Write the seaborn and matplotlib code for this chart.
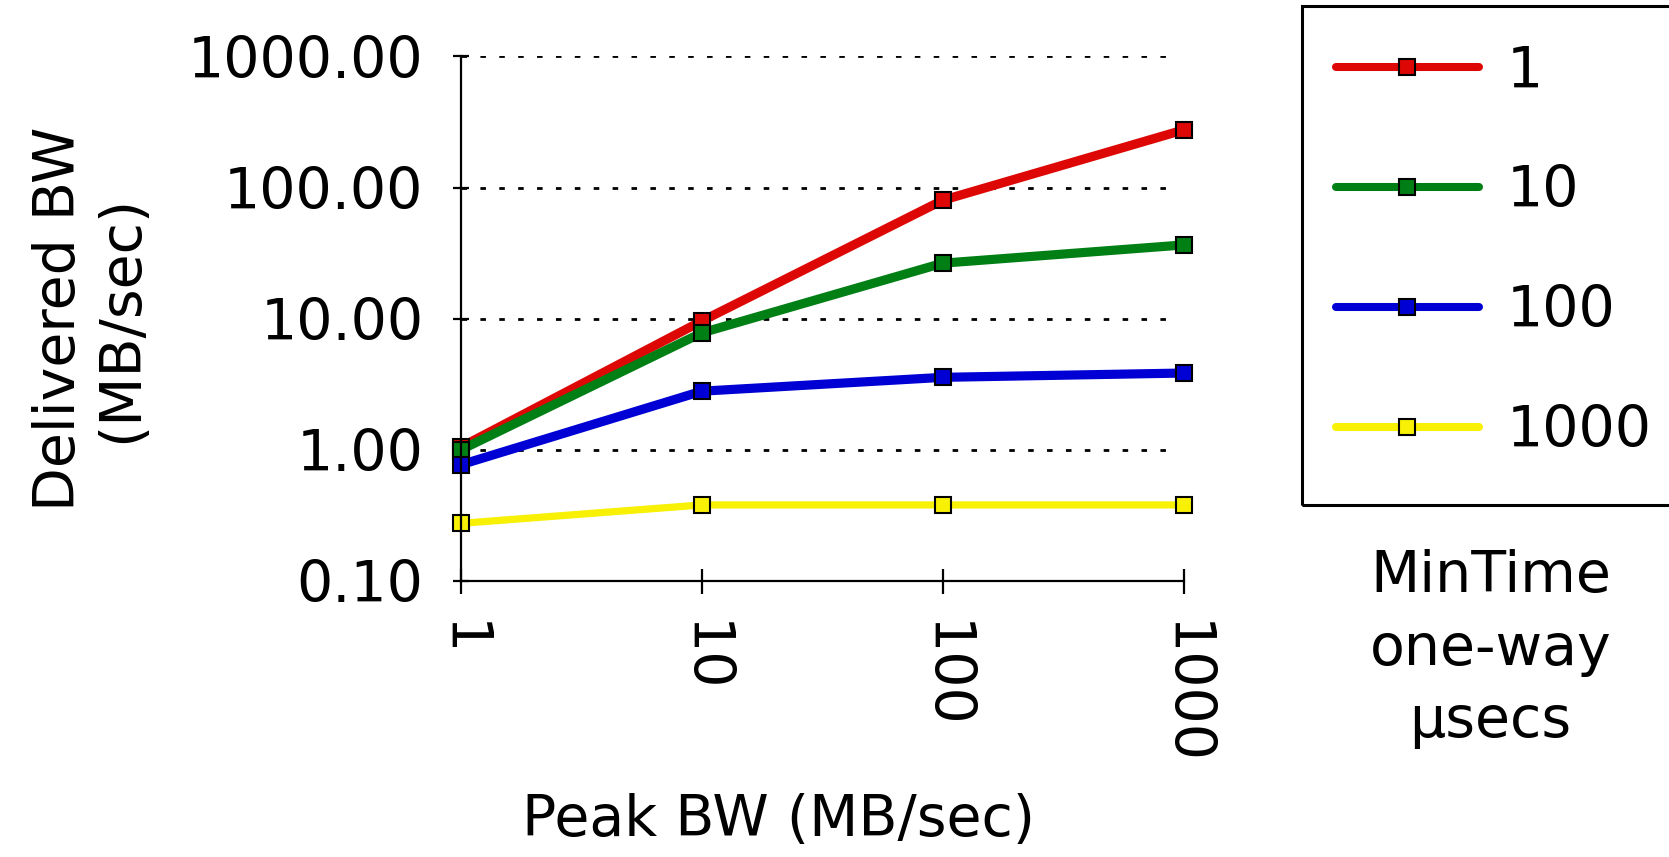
import matplotlib
matplotlib.use("Agg")
import matplotlib.pyplot as plt
from matplotlib.patches import Rectangle
from matplotlib.ticker import FixedLocator, NullLocator, FuncFormatter
import seaborn as sns
import pandas as pd

sns.set_style("white")
plt.rcParams['font.family'] = ['DejaVu Sans']
plt.rcParams.update({'text.color': 'black', 'axes.labelcolor': 'black',
                     'xtick.color': 'black', 'ytick.color': 'black'})

# data
peak_bw = [1, 10, 100, 1000]
min_time = ['1', '10', '100', '1000']
bw_1 = [1.05, 9.6, 80, 275]
bw_10 = [1.0, 7.8, 26.5, 36.5]
bw_100 = [0.77, 2.8, 3.57, 3.85]
bw_1000 = [0.275, 0.38, 0.38, 0.38]
colors = ['#DD0806', '#007F14', '#0000D4', '#F8F005']

df = pd.DataFrame({
    'Peak': peak_bw * 4,
    'Delivered': bw_1 + bw_10 + bw_100 + bw_1000,
    'MinTime': [m for m in min_time for _ in peak_bw],
})

FS = 41
fig = plt.figure(figsize=(16.69, 8.57), dpi=100)
ax = fig.add_axes([0.2762, 0.3221, 0.7092 - 0.2762, 0.9342 - 0.3221])

sns.lineplot(data=df, x='Peak', y='Delivered', hue='MinTime',
             palette=dict(zip(min_time, colors)), hue_order=min_time,
             marker='s', markersize=11, markeredgecolor='black',
             markeredgewidth=1.5, linewidth=6.6, legend=False, ax=ax,
             clip_on=False)
# the yellow series is drawn a touch thinner
ax.get_lines()[3].set_linewidth(5.2)

ax.set_xscale('log')
ax.set_yscale('log')
ax.set_xlim(1, 1000)
ax.set_ylim(0.1, 1000)

ax.xaxis.set_major_locator(FixedLocator(peak_bw))
ax.xaxis.set_minor_locator(NullLocator())
ax.yaxis.set_major_locator(FixedLocator([0.1, 1, 10, 100, 1000]))
ax.yaxis.set_minor_locator(NullLocator())
ax.xaxis.set_major_formatter(FuncFormatter(lambda v, p: f"{v:g}"))
ax.yaxis.set_major_formatter(FuncFormatter(lambda v, p: f"{v:.2f}"))

# dotted gridlines stop a little short of the last x tick
for yv in [1, 10, 100, 1000]:
    ax.axhline(yv, xmin=0, xmax=0.985, color='black', linewidth=2.0,
               linestyle=(0, (2.0, 4.8)), zorder=0.5)

for s in ['top', 'right']:
    ax.spines[s].set_visible(False)
for s in ['left', 'bottom']:
    ax.spines[s].set_color('black')
    ax.spines[s].set_linewidth(1.6)

ax.tick_params(axis='y', direction='inout', length=12, width=1.6,
               labelsize=FS, pad=21, left=True)
ax.tick_params(axis='x', direction='inout', length=18, width=1.6,
               labelsize=FS, pad=20, bottom=True, labelrotation=-90)
for lab in ax.get_xticklabels():
    lab.set_va('top')
    lab.set_ha('center')

ax.set_xlabel('Peak BW (MB/sec)', fontsize=FS)
ax.set_ylabel('Delivered BW\n(MB/sec)', fontsize=FS, linespacing=1.15)
ax.xaxis.set_label_coords(0.44, -0.405)
ax.yaxis.set_label_coords(-0.432, 0.5)

# legend: frameless legend with a hand-drawn box that runs off the right edge
lines = ax.get_lines()[:4]
leg = fig.legend(lines, min_time, loc='upper left',
                 bbox_to_anchor=(0.787, 0.975), frameon=False,
                 fontsize=FS, handlelength=2.5, handletextpad=0.5,
                 labelspacing=1.14, borderaxespad=0)
for h in leg.legend_handles:
    h.set_linewidth(5.8)

fig.patches.append(Rectangle((0.780, 0.411), 0.26, 0.582,
                             transform=fig.transFigure, fill=False,
                             edgecolor='black', linewidth=2.2))

fig.text(0.893, 0.2427, 'MinTime\none-way\nµsecs', ha='center', va='center',
         fontsize=FS, linespacing=1.41)

fig.savefig('out.png', dpi=100)
